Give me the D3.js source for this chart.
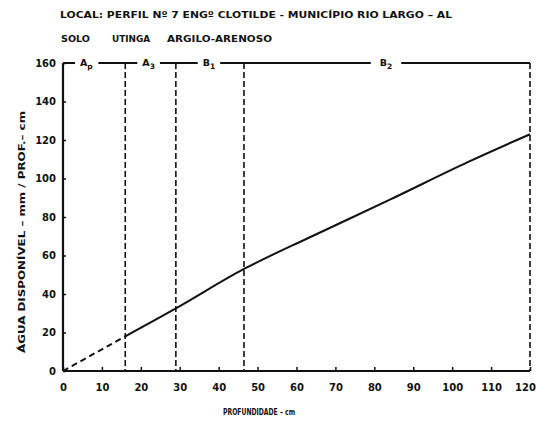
<!DOCTYPE html>
<html>
<head>
<meta charset="utf-8">
<script src="https://cdn.jsdelivr.net/npm/d3@7"></script>
<style>
  body { margin: 0; background: #fff; }
  text { font-family: "DejaVu Sans", sans-serif; font-weight: bold; fill: #111; }
</style>
</head>
<body>
<svg width="536" height="429"></svg>
<script>
// Available water vs depth, soil profile no. 7

// Data
const depth = [0, 16, 29, 46.5, 64, 84, 104, 120];          // cm
const water = [0, 18, 32.5, 53, 70, 89, 108.5, 123];        // mm / cm depth
const dashedUntil = 16;                                      // extrapolated part
const horizonBounds = [16, 29, 46.5, 120];                   // horizon limits, cm
const horizonNames = [["A", "p"], ["A", "3"], ["B", "1"], ["B", "2"]];
const horizonLabelAt = [6, 22, 37.5, 83];
const xTicks = d3.range(0, 121, 10);
const yTicks = d3.range(0, 161, 20);
const soilWords = ["SOLO", "UTINGA", "ARGILO-ARENOSO"];

const svg = d3.select("svg");

const x = d3.scaleLinear().domain([0, 120]).range([63, 530]);
const y = d3.scaleLinear().domain([0, 160]).range([371, 63]);

// Titles
svg.append("text").attr("x", 60).attr("y", 18)
    .attr("font-size", 9.5).attr("textLength", 392)
    .attr("lengthAdjust", "spacingAndGlyphs")
    .text("LOCAL: PERFIL Nº 7 ENGº CLOTILDE - MUNICÍPIO RIO LARGO – AL");

const soilX = [61, 112, 167], soilW = [29, 38, 105];
soilWords.forEach(function(w, i) {
    svg.append("text").attr("x", soilX[i]).attr("y", 42)
        .attr("font-size", 9.5).attr("textLength", soilW[i])
        .attr("lengthAdjust", "spacingAndGlyphs")
        .text(w);
});

// Top border line (y = 160)
svg.append("line")
    .attr("x1", x(0)).attr("x2", x(120))
    .attr("y1", y(160)).attr("y2", y(160))
    .attr("stroke", "#111").attr("stroke-width", 2);

// Horizon labels with gaps in the top line
const hl = svg.append("g");
horizonNames.forEach(function(n, i) {
    let t = hl.append("text")
        .attr("x", x(horizonLabelAt[i])).attr("y", y(160) + 3)
        .attr("font-size", 9.5).attr("text-anchor", "middle");
    t.append("tspan").text(n[0]);
    t.append("tspan").attr("font-size", 7.5).attr("dy", 3).text(n[1]);
    let bb = t.node().getBBox();
    let pad = i == 3 ? 9 : 5;
    hl.insert("rect", "text")
        .attr("x", bb.x - pad).attr("y", y(160) - 3)
        .attr("width", bb.width + 2 * pad).attr("height", 6)
        .attr("fill", "#fff");
});

// Vertical dashed horizon limits
svg.append("g").selectAll("line")
    .data(horizonBounds)
    .enter().append("line")
    .attr("x1", d => x(d)).attr("x2", d => x(d))
    .attr("y1", y(160)).attr("y2", y(0))
    .attr("stroke", "#111").attr("stroke-width", 1.6)
    .attr("stroke-dasharray", "6,3");

// Axes
const xAxis = d3.axisBottom(x).tickValues(xTicks).tickSize(-4).tickPadding(13);
const yAxis = d3.axisLeft(y).tickValues(yTicks).tickSize(-3).tickPadding(7);

const gx = svg.append("g").attr("transform", "translate(0," + y(0) + ")").call(xAxis);
const gy = svg.append("g").attr("transform", "translate(" + x(0) + ",0)").call(yAxis);
[gx, gy].forEach(function(g) {
    g.select(".domain").attr("stroke", "#111").attr("stroke-width", 2.2);
    g.selectAll(".tick line").attr("stroke", "#111").attr("stroke-width", 1.5);
    g.selectAll(".tick text").attr("font-size", 10)
        .attr("font-family", "DejaVu Sans").attr("font-weight", "bold").attr("fill", "#111");
});
gy.select(".domain").attr("d", "M0," + y(0) + "V" + y(160));
gx.select(".domain").attr("d", "M" + x(0) + ",0H" + x(120));
gx.selectAll(".tick text").filter(d => d == 120).attr("dx", -5);

// Axis titles
svg.append("text").attr("x", 259).attr("y", 415)
    .attr("font-size", 8.5).attr("text-anchor", "middle")
    .attr("textLength", 72).attr("lengthAdjust", "spacingAndGlyphs")
    .text("PROFUNDIDADE – cm");
svg.append("text")
    .attr("transform", "translate(25,232) rotate(-90)")
    .attr("font-size", 9).attr("text-anchor", "middle")
    .attr("textLength", 242).attr("lengthAdjust", "spacingAndGlyphs")
    .text("ÁGUA  DISPONÍVEL – mm / PROF.– cm");

// Curve: dashed extrapolation, then solid
const pts = depth.map((d, i) => [d, water[i]]);
const line = d3.line().x(d => x(d[0])).y(d => y(d[1])).curve(d3.curveMonotoneX);

svg.append("path")
    .datum(pts.filter(d => d[0] <= dashedUntil))
    .attr("d", line)
    .attr("fill", "none").attr("stroke", "#111").attr("stroke-width", 2)
    .attr("stroke-dasharray", "6,4");

svg.append("path")
    .datum(pts.filter(d => d[0] >= dashedUntil))
    .attr("d", line)
    .attr("fill", "none").attr("stroke", "#111").attr("stroke-width", 2);
</script>
</body>
</html>
